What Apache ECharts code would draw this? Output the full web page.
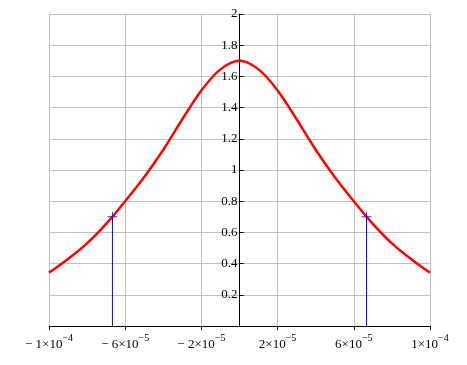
<!DOCTYPE html>
<html>
<head>
<meta charset="utf-8">
<script src="https://cdn.jsdelivr.net/npm/echarts@6/dist/echarts.min.js"></script>
<style>html,body{margin:0;padding:0;background:#fff}#c{width:467px;height:365px}</style>
</head>
<body>
<div id="c"></div>
<script>
var curveX = [-1.0e-4,-0.9e-4,-0.8e-4,-0.7e-4,-0.6e-4,-0.5e-4,-0.4e-4,-0.3e-4,-0.2e-4,-0.1e-4,0,
              0.1e-4,0.2e-4,0.3e-4,0.4e-4,0.5e-4,0.6e-4,0.7e-4,0.8e-4,0.9e-4,1.0e-4];
var curveY = [0.342,0.43,0.53,0.655,0.80,0.955,1.13,1.325,1.51,1.645,1.70,
              1.645,1.51,1.325,1.13,0.955,0.80,0.655,0.53,0.43,0.342];
var markerX = [-6.67e-5, 6.67e-5];
var markerY = [0.70, 0.70];
var xTickValues = [-1e-4,-6e-5,-2e-5,2e-5,6e-5,1e-4];
var xTickMant = ['\u2212 1','\u2212 6','\u2212 2','2','6','1'];
var xTickExp = ['\u22124','\u22125','\u22125','\u22125','\u22125','\u22124'];

var FONT = '"Liberation Serif","DejaVu Serif",serif';
var chart = echarts.init(document.getElementById('c'), null, {renderer:'canvas'});

var series = [{
  type:'line', data: curveX.map(function(x,i){return [x,curveY[i]];}),
  smooth:0.35, showSymbol:false, lineStyle:{color:'#ff0000', width:2.5}, z:3, animation:false
}];
markerX.forEach(function(x,i){
  series.push({type:'line', data:[[x,0],[x,markerY[i]]], showSymbol:false,
    lineStyle:{color:'#0000ff', width:1}, z:2, animation:false});
});
series.push({type:'scatter', data: markerX.map(function(x,i){return [x,markerY[i]];}),
  symbol:'path://M-5,-0.5H5V0.5H-5Z M-0.5,-5H0.5V5H-0.5Z', symbolSize:10,
  itemStyle:{color:'#0000ff'}, z:4, animation:false});

chart.setOption({
  animation:false,
  grid:{left:49, right:37, top:14, bottom:39, containLabel:false},
  xAxis:{
    type:'value', min:-1e-4, max:1e-4,
    axisLine:{show:true, onZero:true, lineStyle:{color:'#000', width:1}},
    axisTick:{show:true, length:4, customValues:xTickValues, lineStyle:{color:'#000'}},
    axisLabel:{customValues:xTickValues, margin:7, color:'#000',
      formatter:function(v){
        var idx = 0, best = 1e9;
        xTickValues.forEach(function(t,i){var d=Math.abs(t-v); if(d<best){best=d;idx=i;}});
        return '{b|'+xTickMant[idx]+'\u00d710}{s|'+xTickExp[idx]+'}';
      },
      rich:{
        b:{fontFamily:FONT, fontSize:13, color:'#000', verticalAlign:'bottom', lineHeight:18},
        s:{fontFamily:FONT, fontSize:10, color:'#000', verticalAlign:'top', lineHeight:18, padding:[0,0,7,0]}
      }
    },
    splitLine:{show:true, lineStyle:{color:'#c0c0c0', width:1}}
  },
  yAxis:{
    type:'value', min:0, max:2, interval:0.2, position:'left', offset:-190.5,
    axisLine:{show:true, onZero:false, lineStyle:{color:'#000', width:1}},
    axisTick:{show:true, inside:true, length:4, lineStyle:{color:'#000'}},
    axisLabel:{showMinLabel:false, margin:2, color:'#000', fontFamily:FONT, fontSize:13,
      formatter:function(v){ return String(Math.round(v*10)/10); }},
    splitLine:{show:true, lineStyle:{color:'#c0c0c0', width:1}}
  },
  series:series
});
</script>
</body>
</html>
